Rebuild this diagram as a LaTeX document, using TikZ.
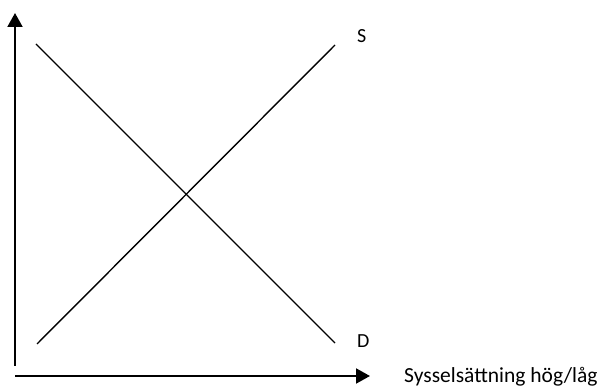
\documentclass[tikz,border=0pt]{standalone}
\usepackage{fontspec}
\setmainfont{Carlito}
\usetikzlibrary{arrows.meta}

\begin{document}
\begin{tikzpicture}[x=1pt, y=-1pt, >={Triangle[length=14pt, width=15pt]},
    axis/.style={->, line width=2pt},
    curve/.style={line width=1.4pt},
    lbl/.style={anchor=base west, inner sep=0pt, font=\fontsize{20}{22}\selectfont}]
    \useasboundingbox (0,0) rectangle (600,387);
    % --- axes ---
    \coordinate (yfoot) at (15,366);
    \coordinate (ytip) at (15,13);
    \coordinate (xfoot) at (15,376);
    \coordinate (xtip) at (370,376);
    \draw[axis] (yfoot) -- (ytip);
    \draw[axis] (xfoot) -- (xtip);
    % --- supply and demand ---
    \coordinate (dtop) at (36,44);
    \coordinate (dend) at (335,343);
    \coordinate (sbot) at (37,344);
    \coordinate (send) at (335,45);
    \draw[curve] (dtop) -- (dend);
    \draw[curve] (sbot) -- (send);
    % --- labels ---
    \node[lbl] (S) at (357,43) {S};
    \node[lbl] (D) at (357,348) {D};
    \node[lbl, font=\fontsize{21.5}{23}\selectfont] (xlabel) at (404,382) {Sysselsättning hög/låg};
\end{tikzpicture}
\end{document}
